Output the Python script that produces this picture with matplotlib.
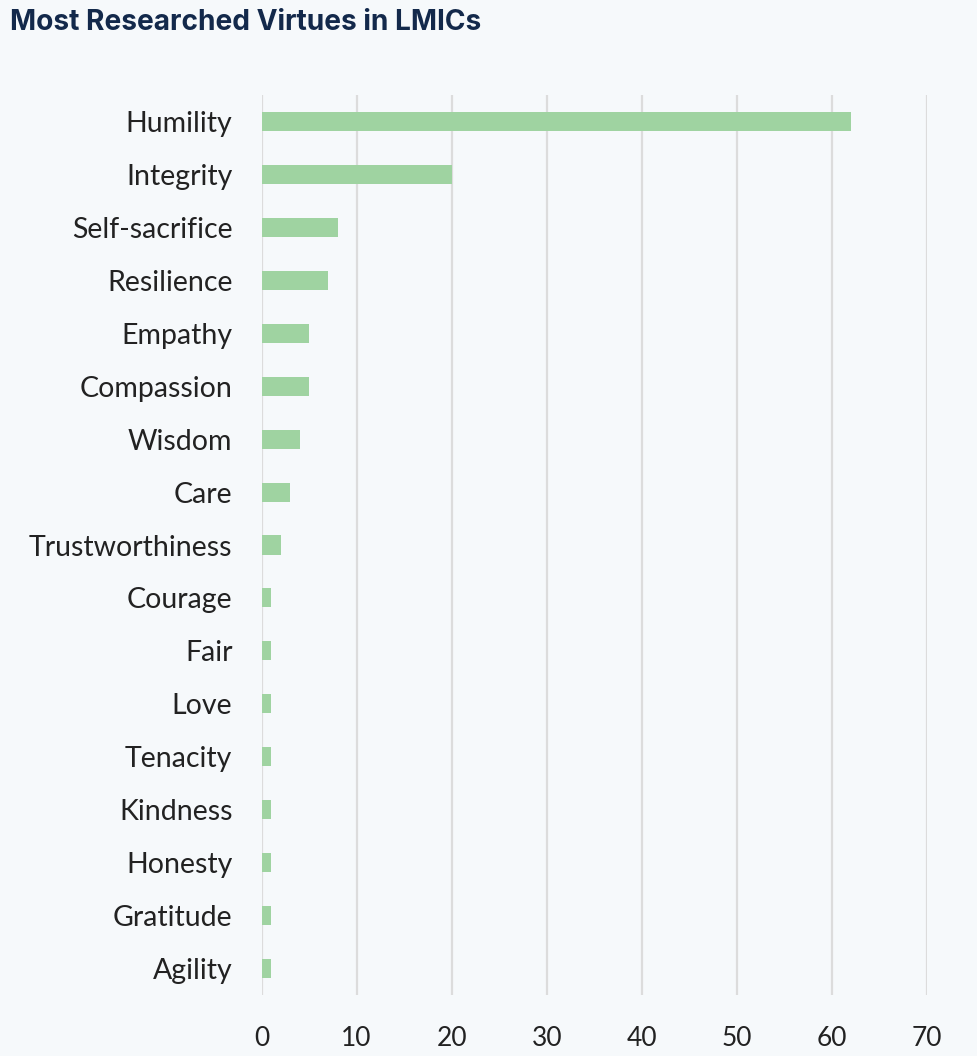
import matplotlib.pyplot as plt

virtues = ["Humility", "Integrity", "Self-sacrifice", "Resilience", "Empathy",
           "Compassion", "Wisdom", "Care", "Trustworthiness", "Courage", "Fair",
           "Love", "Tenacity", "Kindness", "Honesty", "Gratitude", "Agility"]
counts = [62, 20, 8, 7, 5, 5, 4, 3, 2, 1, 1, 1, 1, 1, 1, 1, 1]
x_ticks = [0, 10, 20, 30, 40, 50, 60, 70]

bg = "#f6f9fb"
bar_color = "#9fd3a1"
grid_color = "#dcdcdc"

fig = plt.figure(figsize=(9.77, 10.56), dpi=100, facecolor=bg)
ax = fig.add_axes([0.2677, 0.0578, 0.6811, 0.8522], facecolor=bg)

ypos = list(range(len(virtues)))
ax.barh(ypos, counts, height=0.36, color=bar_color, zorder=3)

ax.set_xlim(0, 70)
ax.set_ylim(16.5, -0.5)
ax.set_xticks(x_ticks)
ax.set_yticks(ypos)
ax.set_yticklabels(virtues, family="Lato", fontsize=20.5, color="#222222")
ax.set_xticklabels([str(t) for t in x_ticks], family="Lato", fontsize=19,
                   color="#222222")
ax.tick_params(axis="both", length=0)
ax.tick_params(axis="y", pad=21)
ax.tick_params(axis="x", pad=22)
ax.grid(axis="x", color=grid_color, linewidth=1.6, zorder=0)
for s in ax.spines.values():
    s.set_visible(False)

fig.text(0.0102, 0.979, "Most Researched Virtues in LMICs", family="Inter",
         fontsize=20.2, fontweight="bold", color="#13294b", va="center")

fig.savefig("out.png", dpi=100, facecolor=bg)
